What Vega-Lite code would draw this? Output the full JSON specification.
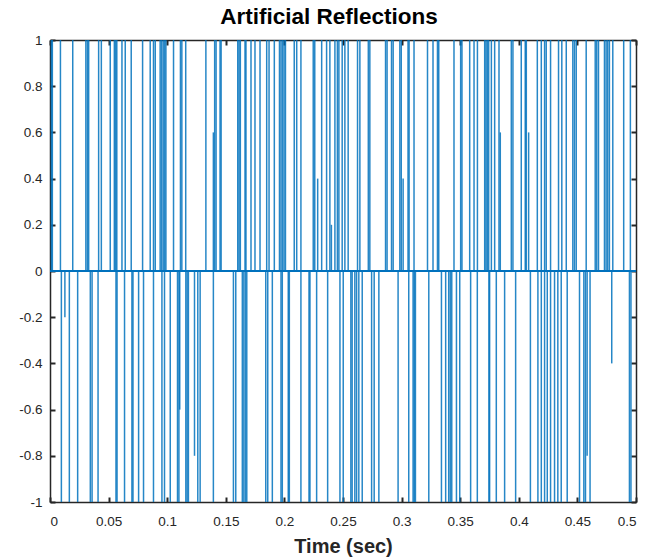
{
  "$schema": "https://vega.github.io/schema/vega-lite/v6.json",
  "width": 586,
  "height": 462,
  "autosize": {"type": "none"},
  "padding": {"left": 50, "top": 40, "right": 16, "bottom": 58},
  "background": "white",
  "title": {
    "text": "Artificial Reflections",
    "font": "Liberation Sans",
    "fontSize": 22.5,
    "fontWeight": "bold",
    "color": "#000000",
    "anchor": "middle",
    "dx": -14,
    "offset": 5
  },
  "config": {
    "view": {"stroke": null},
    "axis": {
      "grid": false,
      "labelFont": "Liberation Sans",
      "labelFontSize": 13.5,
      "labelColor": "#262626",
      "domainColor": "#262626",
      "domainWidth": 1.5,
      "tickColor": "#262626",
      "tickWidth": 2,
      "tickSize": -5,
      "titleFont": "Liberation Sans",
      "titleFontSize": 20,
      "titleFontWeight": "bold",
      "titleColor": "#262626"
    }
  },
  "data": {
    "values": [
      {"t": 0.0012, "r": 1}, {"t": 0.0020, "r": 1}, {"t": 0.0089, "r": 1}, {"t": 0.0194, "r": 1},
      {"t": 0.0306, "r": 1}, {"t": 0.0319, "r": 1}, {"t": 0.0330, "r": 1}, {"t": 0.0415, "r": 1},
      {"t": 0.0438, "r": 1}, {"t": 0.0514, "r": 1}, {"t": 0.0549, "r": 1}, {"t": 0.0560, "r": 1},
      {"t": 0.0570, "r": 1}, {"t": 0.0614, "r": 1}, {"t": 0.0642, "r": 1}, {"t": 0.0693, "r": 1},
      {"t": 0.0790, "r": 1}, {"t": 0.0855, "r": 1}, {"t": 0.0883, "r": 1}, {"t": 0.0898, "r": 1},
      {"t": 0.0940, "r": 1}, {"t": 0.0953, "r": 1}, {"t": 0.0966, "r": 1}, {"t": 0.0979, "r": 1},
      {"t": 0.0989, "r": 1}, {"t": 0.1054, "r": 1}, {"t": 0.1113, "r": 1}, {"t": 0.1125, "r": 1},
      {"t": 0.1158, "r": 1}, {"t": 0.1330, "r": 1}, {"t": 0.1394, "r": 0.6}, {"t": 0.1405, "r": 1},
      {"t": 0.1417, "r": 1}, {"t": 0.1451, "r": 1}, {"t": 0.1460, "r": 1}, {"t": 0.1602, "r": 1},
      {"t": 0.1613, "r": 1}, {"t": 0.1624, "r": 1}, {"t": 0.1664, "r": 1}, {"t": 0.1672, "r": 1},
      {"t": 0.1715, "r": 1}, {"t": 0.1749, "r": 1}, {"t": 0.1792, "r": 1}, {"t": 0.1849, "r": 1},
      {"t": 0.1869, "r": 1}, {"t": 0.1914, "r": 1}, {"t": 0.1958, "r": 1}, {"t": 0.1971, "r": 1},
      {"t": 0.1984, "r": 1}, {"t": 0.1997, "r": 1}, {"t": 0.2009, "r": 1}, {"t": 0.2084, "r": 1},
      {"t": 0.2105, "r": 1}, {"t": 0.2141, "r": 1}, {"t": 0.2246, "r": 1}, {"t": 0.2259, "r": 1},
      {"t": 0.2284, "r": 0.4}, {"t": 0.2318, "r": 1}, {"t": 0.2360, "r": 1}, {"t": 0.2388, "r": 1},
      {"t": 0.2401, "r": 0.2}, {"t": 0.2431, "r": 1}, {"t": 0.2452, "r": 1}, {"t": 0.2465, "r": 1},
      {"t": 0.2493, "r": 1}, {"t": 0.2516, "r": 1}, {"t": 0.2544, "r": 1}, {"t": 0.2624, "r": 1},
      {"t": 0.2644, "r": 1}, {"t": 0.2716, "r": 1}, {"t": 0.2729, "r": 1}, {"t": 0.2863, "r": 1},
      {"t": 0.2876, "r": 1}, {"t": 0.2914, "r": 1}, {"t": 0.2928, "r": 1}, {"t": 0.2985, "r": 1},
      {"t": 0.2997, "r": 1}, {"t": 0.3013, "r": 0.4}, {"t": 0.3055, "r": 1}, {"t": 0.3064, "r": 1},
      {"t": 0.3106, "r": 1}, {"t": 0.3221, "r": 1}, {"t": 0.3268, "r": 1}, {"t": 0.3306, "r": 1},
      {"t": 0.3317, "r": 1}, {"t": 0.3447, "r": 1}, {"t": 0.3504, "r": 1}, {"t": 0.3515, "r": 1},
      {"t": 0.3581, "r": 1}, {"t": 0.3618, "r": 1}, {"t": 0.3647, "r": 1}, {"t": 0.3709, "r": 1},
      {"t": 0.3720, "r": 1}, {"t": 0.3731, "r": 1}, {"t": 0.3743, "r": 1}, {"t": 0.3766, "r": 1},
      {"t": 0.3794, "r": 1}, {"t": 0.3831, "r": 1}, {"t": 0.3842, "r": 0.6}, {"t": 0.3936, "r": 1},
      {"t": 0.3950, "r": 1}, {"t": 0.4021, "r": 1}, {"t": 0.4055, "r": 1}, {"t": 0.4064, "r": 1},
      {"t": 0.4084, "r": 0.6}, {"t": 0.4158, "r": 1}, {"t": 0.4192, "r": 1}, {"t": 0.4220, "r": 1},
      {"t": 0.4234, "r": 1}, {"t": 0.4271, "r": 1}, {"t": 0.4339, "r": 1}, {"t": 0.4367, "r": 1},
      {"t": 0.4405, "r": 1}, {"t": 0.4461, "r": 1}, {"t": 0.4475, "r": 1}, {"t": 0.4490, "r": 1},
      {"t": 0.4575, "r": 1}, {"t": 0.4652, "r": 1}, {"t": 0.4665, "r": 1}, {"t": 0.4680, "r": 1},
      {"t": 0.4731, "r": 1}, {"t": 0.4745, "r": 1}, {"t": 0.4759, "r": 1}, {"t": 0.4773, "r": 1},
      {"t": 0.4802, "r": 1}, {"t": 0.4895, "r": 1}, {"t": 0.4952, "r": 1},
      {"t": 0.0097, "r": -1}, {"t": 0.0127, "r": -0.2}, {"t": 0.0165, "r": -1}, {"t": 0.0236, "r": -1},
      {"t": 0.0344, "r": -1}, {"t": 0.0359, "r": -1}, {"t": 0.0410, "r": -1}, {"t": 0.0563, "r": -1},
      {"t": 0.0572, "r": -1}, {"t": 0.0636, "r": -1}, {"t": 0.0699, "r": -1}, {"t": 0.0708, "r": -1},
      {"t": 0.0756, "r": -1}, {"t": 0.0798, "r": -1}, {"t": 0.0883, "r": -1}, {"t": 0.0955, "r": -1},
      {"t": 0.0977, "r": -1}, {"t": 0.1026, "r": -1}, {"t": 0.1088, "r": -1}, {"t": 0.1100, "r": -1},
      {"t": 0.1107, "r": -0.6}, {"t": 0.1159, "r": -1}, {"t": 0.1170, "r": -1}, {"t": 0.1181, "r": -1},
      {"t": 0.1233, "r": -0.8}, {"t": 0.1261, "r": -1}, {"t": 0.1281, "r": -1}, {"t": 0.1394, "r": -1},
      {"t": 0.1565, "r": -1}, {"t": 0.1585, "r": -1}, {"t": 0.1641, "r": -1}, {"t": 0.1654, "r": -1},
      {"t": 0.1667, "r": -1}, {"t": 0.1679, "r": -1}, {"t": 0.1841, "r": -1}, {"t": 0.1858, "r": -1},
      {"t": 0.1897, "r": -1}, {"t": 0.1971, "r": -1}, {"t": 0.1982, "r": -1}, {"t": 0.2033, "r": -1},
      {"t": 0.2042, "r": -1}, {"t": 0.2141, "r": -1}, {"t": 0.2210, "r": -1}, {"t": 0.2218, "r": -1},
      {"t": 0.2275, "r": -1}, {"t": 0.2369, "r": -1}, {"t": 0.2474, "r": -1}, {"t": 0.2502, "r": -1},
      {"t": 0.2567, "r": -1}, {"t": 0.2578, "r": -1}, {"t": 0.2601, "r": -1}, {"t": 0.2616, "r": -1},
      {"t": 0.2635, "r": -1}, {"t": 0.2664, "r": -1}, {"t": 0.2744, "r": -1}, {"t": 0.2766, "r": -1},
      {"t": 0.2806, "r": -1}, {"t": 0.2970, "r": -1}, {"t": 0.3061, "r": -1}, {"t": 0.3098, "r": -1},
      {"t": 0.3108, "r": -1}, {"t": 0.3118, "r": -1}, {"t": 0.3232, "r": -1}, {"t": 0.3340, "r": -1},
      {"t": 0.3376, "r": -1}, {"t": 0.3402, "r": -1}, {"t": 0.3415, "r": -1}, {"t": 0.3428, "r": -1},
      {"t": 0.3468, "r": -1}, {"t": 0.3496, "r": -1}, {"t": 0.3589, "r": -1}, {"t": 0.3646, "r": -1},
      {"t": 0.3745, "r": -1}, {"t": 0.3751, "r": -1}, {"t": 0.3808, "r": -1}, {"t": 0.3879, "r": -1},
      {"t": 0.3973, "r": -1}, {"t": 0.4099, "r": -1}, {"t": 0.4163, "r": -1}, {"t": 0.4192, "r": -1},
      {"t": 0.4220, "r": -1}, {"t": 0.4243, "r": -1}, {"t": 0.4271, "r": -1}, {"t": 0.4305, "r": -1},
      {"t": 0.4333, "r": -1}, {"t": 0.4362, "r": -1}, {"t": 0.4413, "r": -1}, {"t": 0.4518, "r": -1},
      {"t": 0.4555, "r": -1}, {"t": 0.4569, "r": -1}, {"t": 0.4583, "r": -0.8}, {"t": 0.4608, "r": -1},
      {"t": 0.4793, "r": -0.4}, {"t": 0.4944, "r": -1}, {"t": 0.4957, "r": -1}
    ]
  },
  "layer": [
    {
      "mark": {"type": "rule", "color": "#0072BD", "strokeWidth": 1.3, "opacity": 0.85},
      "encoding": {
        "y": {"datum": 0, "axis": null}
      }
    },
    {
      "mark": {"type": "rule", "color": "#0072BD", "strokeWidth": 1.5, "opacity": 0.85},
      "encoding": {
        "x": {
          "field": "t",
          "type": "quantitative",
          "scale": {"domain": [0, 0.5], "nice": false, "zero": false},
          "axis": {
            "orient": "bottom",
            "title": "Time (sec)",
            "values": [0, 0.05, 0.1, 0.15, 0.2, 0.25, 0.3, 0.35, 0.4, 0.45, 0.5],
            "labelExpr": "'' + datum.value",
            "labelPadding": 17,
            "titlePadding": 9
          }
        },
        "y": {
          "field": "r",
          "type": "quantitative",
          "scale": {"domain": [-1, 1], "nice": false},
          "axis": {
            "orient": "left",
            "title": null,
            "values": [-1, -0.8, -0.6, -0.4, -0.2, 0, 0.2, 0.4, 0.6, 0.8, 1],
            "labelExpr": "'' + datum.value",
            "labelPadding": 13
          }
        },
        "y2": {"datum": 0}
      }
    },
    {
      "mark": {"type": "point", "opacity": 0},
      "encoding": {
        "x": {
          "field": "t",
          "type": "quantitative",
          "axis": {
            "orient": "top",
            "title": null,
            "labels": false,
            "values": [0, 0.05, 0.1, 0.15, 0.2, 0.25, 0.3, 0.35, 0.4, 0.45, 0.5]
          }
        },
        "y": {
          "field": "r",
          "type": "quantitative",
          "axis": {
            "orient": "right",
            "title": null,
            "labels": false,
            "values": [-1, -0.8, -0.6, -0.4, -0.2, 0, 0.2, 0.4, 0.6, 0.8, 1]
          }
        }
      }
    }
  ],
  "resolve": {"axis": {"x": "independent", "y": "independent"}}
}
